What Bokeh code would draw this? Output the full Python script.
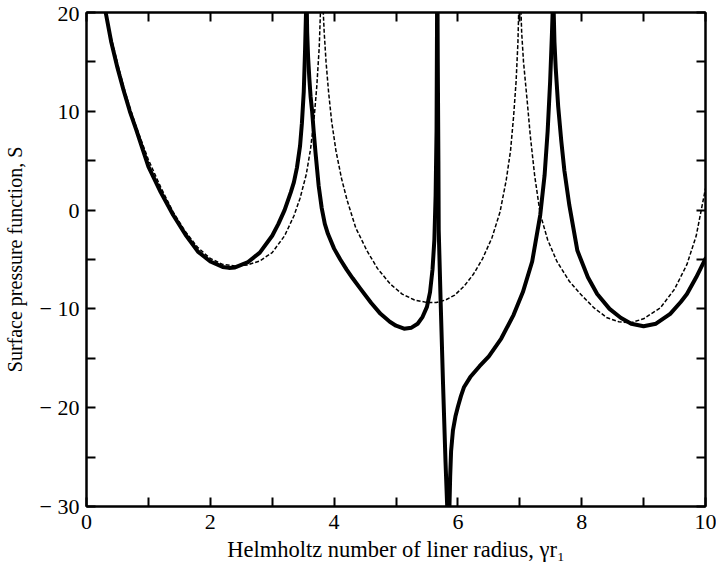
from bokeh.plotting import figure
from bokeh.models import LinearAxis, FixedTicker, Range1d, CustomJSTickFormatter
from bokeh.embed import file_html
from bokeh.resources import INLINE

# ---- data ----
# solid curve, branches between poles
solid_x1 = [0.31, 0.40, 0.50, 0.60, 0.70, 0.80, 0.90, 1.00, 1.20, 1.40, 1.60, 1.80, 2.00, 2.20, 2.30,
            2.40, 2.60, 2.80, 3.00, 3.10, 3.20, 3.30, 3.35, 3.40, 3.45, 3.48, 3.51, 3.53, 3.55]
solid_y1 = [20.0, 17.0, 14.4, 12.1, 10.0, 8.2, 6.3, 4.4, 1.8, -0.5, -2.5, -4.2, -5.2, -5.75, -5.85,
            -5.8, -5.3, -4.3, -2.6, -1.4, 0.0, 1.8, 2.8, 4.3, 6.5, 8.8, 12.0, 16.0, 21.0]

solid_x2 = [3.555, 3.565, 3.58, 3.60, 3.62, 3.645, 3.67, 3.70, 3.75, 3.80, 3.85, 3.90, 4.00, 4.10,
            4.20, 4.30, 4.43, 4.60, 4.75, 4.90, 5.00, 5.13, 5.25, 5.35, 5.43, 5.50, 5.55, 5.59,
            5.62, 5.64, 5.655, 5.665]
solid_y2 = [22.0, 18.0, 15.5, 13.3, 11.5, 10.0, 8.0, 5.8, 2.5, 0.2, -1.4, -2.4, -3.9, -5.0,
            -6.0, -6.9, -8.0, -9.4, -10.5, -11.3, -11.7, -12.0, -11.9, -11.5, -10.8, -9.8, -8.3, -6.0,
            -3.0, 1.5, 8.0, 22.0]

solid_x3 = [5.67, 5.675, 5.685, 5.69, 5.72, 5.76, 5.80, 5.83, 5.845, 5.86, 5.875, 5.89, 5.92, 5.96,
            6.00, 6.05, 6.10, 6.20, 6.35, 6.50, 6.70, 6.90, 7.05, 7.20, 7.33, 7.40, 7.45, 7.49,
            7.52, 7.54]
solid_y3 = [22.0, 15.0, 5.0, -2.0, -9.0, -17.6, -25.5, -30.5, -34.0, -31.0, -27.0, -24.4, -22.3, -20.9,
            -19.9, -18.8, -17.9, -16.9, -15.8, -14.8, -13.0, -10.6, -8.3, -5.2, -0.5, 3.5, 8.0, 13.0,
            18.0, 22.0]

solid_x4 = [7.54, 7.56, 7.58, 7.62, 7.67, 7.72, 7.80, 7.93, 8.10, 8.25, 8.45, 8.63, 8.80, 9.00,
            9.20, 9.43, 9.60, 9.70, 9.85, 10.0]
solid_y4 = [22.0, 17.0, 14.4, 10.5, 7.0, 4.0, 0.5, -4.1, -6.8, -8.5, -10.0, -10.9, -11.5, -11.75,
            -11.5, -10.5, -9.3, -8.5, -6.8, -4.9]

# dashed curve, branches between poles
dash_x1 = [0.31, 0.40, 0.50, 0.60, 0.70, 0.80, 0.90, 1.00, 1.20, 1.40, 1.60, 1.80, 2.00, 2.20, 2.40,
           2.60, 2.80, 3.00, 3.20, 3.35, 3.45, 3.55, 3.62, 3.68, 3.72, 3.76, 3.79]
dash_y1 = [20.0, 17.4, 14.9, 12.5, 10.4, 8.5, 6.8, 5.1, 2.3, -0.2, -2.2, -3.8, -4.9, -5.5, -5.65,
           -5.55, -5.15, -4.3, -2.6, -0.6, 1.2, 3.6, 6.2, 9.5, 12.5, 16.5, 22.0]

dash_x2 = [3.81, 3.84, 3.87, 3.91, 3.96, 4.03, 4.12, 4.21, 4.35, 4.53, 4.70, 4.91, 5.10, 5.30,
           5.50, 5.65, 5.80, 5.95, 6.10, 6.25, 6.40, 6.55, 6.68, 6.78, 6.85, 6.90, 6.94, 6.97, 6.99]
dash_y2 = [22.0, 18.0, 15.0, 12.0, 9.0, 6.0, 3.2, 1.0, -1.8, -4.1, -5.9, -7.5, -8.5, -9.1,
           -9.35, -9.35, -9.1, -8.6, -7.7, -6.5, -4.9, -2.8, -0.2, 3.0, 6.0, 9.5, 13.0, 17.0, 22.0]

dash_x3 = [7.01, 7.03, 7.06, 7.09, 7.12, 7.17, 7.24, 7.33, 7.45, 7.60, 7.80, 7.98, 8.20, 8.41,
           8.60, 8.79, 9.00, 9.27, 9.50, 9.70, 9.85, 10.0]
dash_y3 = [22.0, 18.0, 15.0, 13.0, 11.0, 7.5, 3.5, -0.4, -3.0, -5.2, -7.2, -8.5, -9.9, -10.9,
           -11.3, -11.4, -11.0, -9.9, -8.0, -5.5, -2.6, 2.2]

x_ticks = [0, 2, 4, 6, 8, 10]
x_minor = [1, 3, 5, 7, 9]
y_ticks = [-30, -20, -10, 0, 10, 20]
y_minor = [-25, -15, -5, 5, 15]
y_tick_labels = {-30: "\u2212 30", -20: "\u2212 20", -10: "\u2212 10", 0: "0", 10: "10", 20: "20"}
x_tick_labels = {0: "0", 2: "2", 4: "4", 6: "6", 8: "8", 10: "10"}

x_label = "Helmholtz number of liner radius, \u03b3r\u2081"
y_label = "Surface pressure function, S"

FONT = "Liberation Serif"

p = figure(width=716, height=569, x_range=Range1d(0, 10), y_range=Range1d(-30, 20),
           output_backend="svg", toolbar_location=None,
           min_border_left=86, min_border_right=11, min_border_top=12, min_border_bottom=63)
p.grid.visible = False
p.outline_line_color = "black"
p.outline_line_width = 2
p.background_fill_color = "white"
p.border_fill_color = "white"

for xs, ys in [(solid_x1, solid_y1), (solid_x2, solid_y2), (solid_x3, solid_y3), (solid_x4, solid_y4)]:
    p.line(xs, ys, line_color="black", line_width=4, line_join="round", line_cap="round")
for xs, ys in [(dash_x1, dash_y1), (dash_x2, dash_y2), (dash_x3, dash_y3)]:
    p.line(xs, ys, line_color="black", line_width=1.5, line_dash="4 2")


def style_axis(ax, ticks, minor):
    ax.ticker = FixedTicker(ticks=ticks, minor_ticks=minor)
    ax.axis_line_color = "black"
    ax.axis_line_width = 2
    ax.major_tick_in = 9
    ax.major_tick_out = 0
    ax.minor_tick_in = 9
    ax.minor_tick_out = 0
    ax.major_tick_line_width = 2
    ax.minor_tick_line_width = 2
    ax.major_tick_line_color = "black"
    ax.minor_tick_line_color = "black"
    ax.major_label_text_font = FONT
    ax.major_label_text_color = "black"
    ax.axis_label_text_font = FONT
    ax.axis_label_text_font_style = "normal"
    ax.axis_label_text_color = "black"


xa = p.xaxis[0]
style_axis(xa, x_ticks, x_minor)
xa.major_label_overrides = x_tick_labels
xa.major_label_text_font_size = "22px"
xa.major_label_standoff = 8
xa.axis_label = x_label
xa.axis_label_text_font_size = "22.5px"
xa.axis_label_standoff = 5

ya = p.yaxis[0]
style_axis(ya, y_ticks, y_minor)
ya.major_label_overrides = y_tick_labels
ya.major_label_text_font_size = "22px"
ya.major_label_standoff = 7
ya.major_label_orientation = "horizontal"
ya.axis_label = y_label
ya.axis_label_text_font_size = "20px"
ya.axis_label_standoff = 11

blank = CustomJSTickFormatter(code="return ''")
top = LinearAxis(formatter=blank, major_label_standoff=0, major_label_text_font_size="1px")
style_axis(top, x_ticks, x_minor)
p.add_layout(top, "above")
right = LinearAxis(formatter=blank, major_label_standoff=0, major_label_text_font_size="1px")
style_axis(right, y_ticks, y_minor)
p.add_layout(right, "right")

open("out.html", "w").write(file_html(p, INLINE))
